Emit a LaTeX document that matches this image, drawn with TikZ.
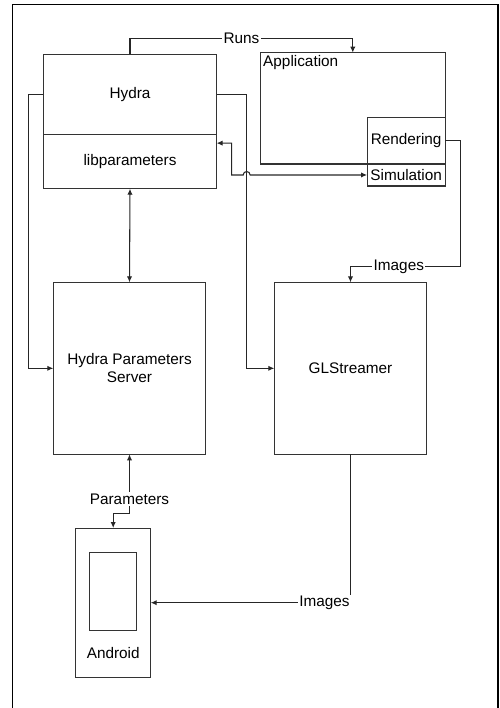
\documentclass[tikz,border=0pt]{standalone}
\usepackage{fontspec}
\setmainfont{Liberation Sans}
\usepackage{tikz}
\usetikzlibrary{arrows.meta,positioning}

\begin{document}
\begin{tikzpicture}[
    x=0.75pt, y=-0.75pt,
    every node/.style={font=\fontsize{11.5}{13.8}\selectfont},
    block/.style={rectangle, draw=black!80, line width=0.8pt, fill=white, text centered, inner sep=1pt, outer sep=0pt},
    bigblock/.style={block, minimum width=114.3pt, minimum height=129pt, align=center},
    lbl/.style={fill=white, inner sep=1pt},
    line/.style={draw=black!85, line width=0.8pt, -{Latex[length=4.5pt,width=4pt]}},
    biline/.style={draw=black!85, line width=0.8pt, {Latex[length=4.5pt,width=4pt]}-{Latex[length=4.5pt,width=4pt]}},
    frame/.style={draw, line width=1.3pt}
]
    \useasboundingbox (0,0) rectangle (500,708);

    % Frame
    \draw [frame] (12.5,715) |- (498,4.5) -- (498,715);

    % Hydra
    \node [block, minimum width=130pt, minimum height=60.2pt] (hydra) at (130,94.2) {Hydra};
    \node [block, minimum width=130pt, minimum height=40.8pt, below=0pt of hydra] (libparams) {libparameters};

    % Application
    \node [block, minimum width=138.75pt, minimum height=83.5pt] (app) at (352.8,108.3) {};
    \node [anchor=north west, inner sep=2pt] (apptxt) at (app.north west) {Application};
    \node [block, anchor=south east, minimum width=58.7pt, minimum height=35pt] (render) at (app.south east) {Rendering};
    \node [block, minimum width=58.7pt, minimum height=16.5pt, below=0pt of render] (sim) {Simulation};

    % Servers
    \node [bigblock] (paramserver) at (129.5,368.3) {Hydra Parameters\\Server};
    \node [bigblock, right=51.45pt of paramserver] (glstreamer) {GLStreamer};

    % Android
    \node [block, minimum width=56.25pt, minimum height=112pt] (android) at (113.2,602.7) {};
    \node [block, minimum width=35.4pt, minimum height=58.7pt, below=18pt of android.north] (screen) {};
    \node (androidtxt) at ([yshift=18pt]android.south) {Android};

    % Runs
    \path [line] (hydra.north) -- ++(0,-15.7) -| node [lbl, pos=0.25] {Runs} (app.north);

    % Hydra to servers
    \coordinate (glbend) at ([xshift=22.5pt]hydra.east);
    \path [line] (hydra.east) -- (glbend) |- (glstreamer.west);
    \path [line] (hydra.west) -- ++(-15,0) |- (paramserver.west);

    % libparameters
    \path [biline] (libparams.12.5) -- ++(15,0) |- ([xshift=-2.6pt]glbend |- sim.west) arc [start angle=180, end angle=0, radius=2.6pt] -- (sim.west);
    \path [biline] (libparams.south) -- (paramserver.north);
    \path [biline] (paramserver.south) -- ++(0,59) node [lbl, pos=0.76] {Parameters} -| (android.north);

    % Images
    \path [line] (render.east) -- ++(15,0) -- ++(0,125.7) -| node [lbl, pos=0.28] {Images} (glstreamer.north);
    \path [line] (glstreamer.south) |- node [lbl, pos=0.565] {Images} (android.east);

\end{tikzpicture}
\end{document}
